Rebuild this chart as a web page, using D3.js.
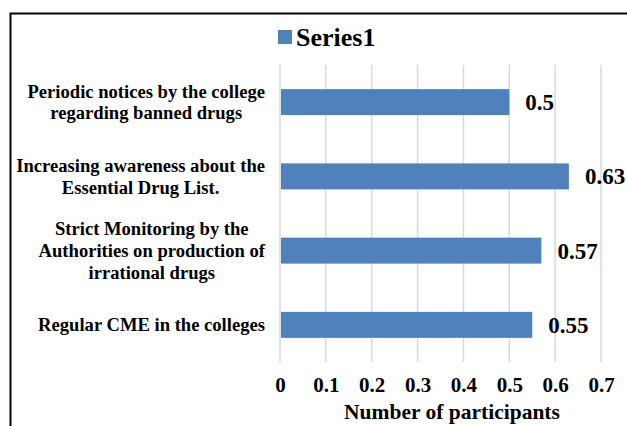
<!DOCTYPE html>
<html>
<head>
<meta charset="utf-8">
<script src="https://cdn.jsdelivr.net/npm/d3@7"></script>
<style>
  html, body { margin: 0; padding: 0; background: #fff; }
  svg { display: block; font-family: "Times New Roman", Times, "Liberation Serif", "DejaVu Serif", serif; font-weight: bold; }
</style>
</head>
<body>
<div id="chart"></div>
<script>
// data (top to bottom)
const categories = [
  ['Periodic notices by the college', 'regarding banned drugs'],
  ['Increasing awareness about the', 'Essential Drug List.'],
  ['Strict Monitoring by the', 'Authorities on production of', 'irrational drugs'],
  ['Regular CME in the colleges']
];
const values = [0.5, 0.63, 0.57, 0.55];
const xTicks = [0, 0.1, 0.2, 0.3, 0.4, 0.5, 0.6, 0.7];
const seriesName = 'Series1';
const axisTitle = 'Number of participants';

const width = 627, height = 426;
const plot = { left: 280, right: 601, top: 65, bottom: 362 };
const barColor = '#4F81BD';
const serif = '"Times New Roman", Times, "Liberation Serif", "DejaVu Serif", serif';

const svg = d3.select('#chart')
  .append('svg')
  .attr('width', width)
  .attr('height', height);

// outer frame (only top and left edges are inside the picture)
svg.append('path')
  .attr('d', `M10.5,${height} V13.5 H${width}`)
  .attr('fill', 'none')
  .attr('stroke', '#000')
  .attr('stroke-width', 2);

const x = d3.scaleLinear()
  .domain([0, 0.7])
  .range([plot.left, plot.right]);

const y = d3.scaleBand()
  .domain(d3.range(values.length))
  .range([plot.top, plot.bottom])
  .paddingInner(0.65)
  .paddingOuter(0.325);

// gridlines
svg.append('g')
  .selectAll('line')
  .data(xTicks)
  .enter()
  .append('line')
  .attr('x1', d => x(d))
  .attr('x2', d => x(d))
  .attr('y1', plot.top)
  .attr('y2', plot.bottom)
  .attr('stroke', '#d9d9d9')
  .attr('stroke-width', 1.5);

// bars
svg.append('g')
  .selectAll('rect')
  .data(values)
  .enter()
  .append('rect')
  .attr('x', x(0) + 1)
  .attr('y', (d, i) => y(i))
  .attr('width', d => x(d) - x(0) - 1)
  .attr('height', y.bandwidth())
  .attr('fill', barColor);

// value labels
svg.append('g')
  .selectAll('text')
  .data(values)
  .enter()
  .append('text')
  .attr('x', d => x(d) + 16)
  .attr('y', (d, i) => y(i) + y.bandwidth() / 2)
  .attr('dy', '0.35em')
  .style('font-size', '23px')
  .text(d => String(d));

// x axis tick labels
const xAxis = svg.append('g')
  .attr('transform', `translate(0,${plot.bottom})`)
  .call(d3.axisBottom(x).tickValues(xTicks).tickSize(0).tickPadding(15)
    .tickFormat(d => d === 0 ? '0' : d3.format('.1f')(d)));
xAxis.select('.domain').remove();
xAxis.attr('font-family', null).attr('font-size', null);
xAxis.selectAll('text')
  .style('font-size', '21px')
  .style('font-family', serif)
  .style('font-weight', 'bold')
  .attr('fill', '#000');

// axis title
svg.append('text')
  .attr('x', 452)
  .attr('y', 419)
  .attr('text-anchor', 'middle')
  .style('font-size', '21.5px')
  .text(axisTitle);

// category labels: each block right-aligned, lines centered within it
const labelRight = 265;
const lineHeight = 21.7;
const catG = svg.append('g').style('font-size', '18.6px');
categories.forEach((lines, i) => {
  const t = catG.append('text').attr('text-anchor', 'middle');
  const cy = y(i) + y.bandwidth() / 2;
  const spans = lines.map((ln, k) => t.append('tspan')
    .attr('y', cy + (k - (lines.length - 1) / 2) * lineHeight)
    .attr('dy', '0.35em')
    .text(ln));
  const maxW = d3.max(spans, s => s.node().getComputedTextLength());
  spans.forEach(s => s.attr('x', labelRight - maxW / 2));
});

// legend
svg.append('rect')
  .attr('x', 278)
  .attr('y', 30)
  .attr('width', 14)
  .attr('height', 14)
  .attr('fill', barColor);
svg.append('text')
  .attr('x', 296)
  .attr('y', 37)
  .attr('dy', '0.35em')
  .style('font-size', '26px')
  .text(seriesName);
</script>
</body>
</html>
